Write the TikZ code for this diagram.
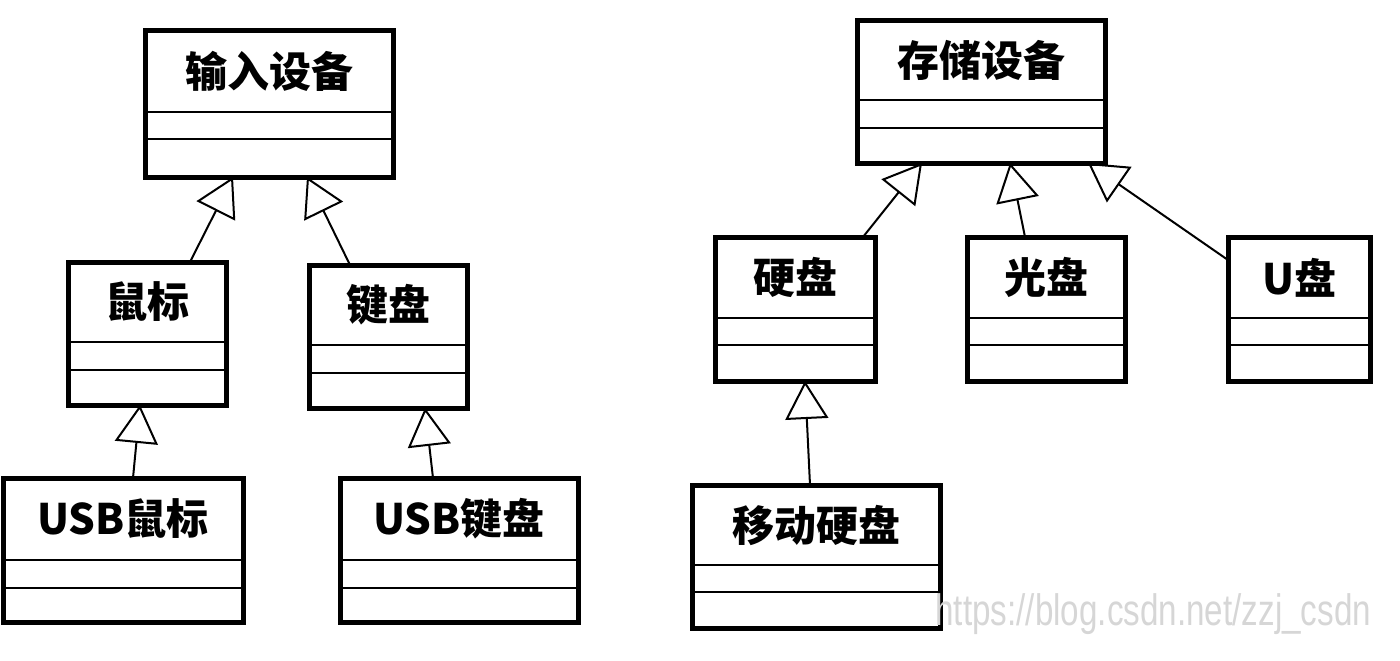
\documentclass[tikz,border=0pt]{standalone}
\usepackage{fontspec}
\newfontfamily\cjk{Noto Sans CJK SC}
\newfontfamily\urlfont{Liberation Sans}
\usetikzlibrary{arrows.meta,calc}

% #1 name, #2 #3 top left, #4 #5 bottom right, #6 #7 dividers, #8 label
\newcommand{\umlclass}[8]{%
    \node[classbox, minimum width={(#4-#2)*0.5pt}, minimum height={(#5-#3)*0.5pt}, anchor=north west] (#1) at (#2,#3) {};
    \node[classname] (#1-name) at ($(#1.north)!0.5!(#1.north |- 0,#6)$) {#8};
    \draw[divider] (#1.west |- 0,#6) -- (#1.east |- 0,#6);
    \draw[divider] (#1.west |- 0,#7) -- (#1.east |- 0,#7);
}

\begin{document}
\begin{tikzpicture}[x=0.5pt, y=-0.5pt,
    classbox/.style={draw, line width=2.5pt, inner sep=0pt, outer sep=0pt},
    classname/.style={font=\cjk\bfseries\fontsize{21}{21}\selectfont, inner sep=0pt},
    divider/.style={line width=1.2pt},
    gen/.style={line width=1pt, -{Triangle[open, length=19pt, width=21.5pt, line width=1pt]}}]
    \useasboundingbox (0,0) rectangle (1400,660);

    \umlclass{indev}{145}{30}{393}{177}{112}{139}{输入设备}
    \umlclass{mouse}{68}{262}{226}{405}{342}{370}{鼠标}
    \umlclass{keyb}{309}{265}{467}{408}{345}{373}{键盘}
    \umlclass{usbmouse}{3}{478}{243}{622}{560}{588}{USB鼠标}
    \umlclass{usbkeyb}{340}{478}{578}{622}{560}{588}{USB键盘}

    \umlclass{storage}{857}{20}{1105}{163}{100}{128}{存储设备}
    \umlclass{hdd}{715}{237}{875}{381}{318}{345}{硬盘}
    \umlclass{cd}{967}{237}{1125}{381}{318}{345}{光盘}
    \umlclass{udisk}{1228}{237}{1370}{381}{318}{345}{U盘}
    \umlclass{mobile}{692}{485}{940}{628}{565}{592}{移动硬盘}

    \draw[gen] ($(mouse.north)+(43,0)$) -- ($(indev.south)+(-36,0)$);
    \draw[gen] ($(keyb.north)+(-38,0)$) -- ($(indev.south)+(38,0)$);
    \draw[gen] ($(usbmouse.north)+(10,0)$) -- ($(mouse.south)+(-7,0)$);
    \draw[gen] ($(usbkeyb.north)+(-26,0)$) -- ($(keyb.south)+(37,0)$);

    \draw[gen] ($(hdd.north)+(68,0)$) -- ($(storage.south)+(-59,0)$);
    \draw[gen] ($(cd.north)+(-21,0)$) -- ($(storage.south)+(29,0)$);
    \draw[gen] ($(udisk.north west)+(0,23)$) -- ($(storage.south)+(107,0)$);
    \draw[gen] ($(mobile.north)+(-6,0)$) -- ($(hdd.south)+(10,0)$);

    \node[font=\urlfont\fontsize{22}{22}\selectfont, xscale=0.755, text=black!16, anchor=base west, inner sep=0pt] (mark) at (935,625) {https://blog.csdn.net/zzj\_csdn};
\end{tikzpicture}
\end{document}
